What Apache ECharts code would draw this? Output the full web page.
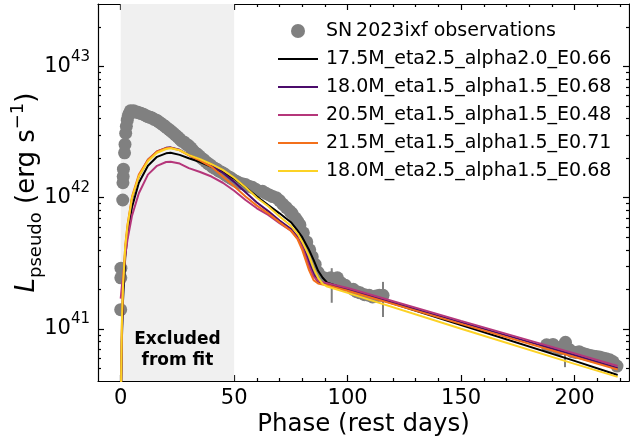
<!DOCTYPE html>
<html><head><meta charset="utf-8">
<script src="https://cdn.jsdelivr.net/npm/echarts@6/dist/echarts.min.js"></script>
<style>html,body{margin:0;padding:0;background:#fff}#c{width:630px;height:440px}</style>
</head><body><div id="c"></div>
<script>
// ---- data ----
const obsName = 'SN\u20092023ixf observations';
const obsDay = [0.0,0.05,0.1,0.9,1.0,1.1,1.2,1.7,1.9,2.2,2.5,2.9,3.3,3.8,4.3,
  5.0,5.7,6.4,7.2,8.0,8.8,9.6,10.4,11.3,12.1,13.0,13.9,14.8,15.8,16.7,17.6,18.6,19.5,20.4,21.4,22.3,23.3,24.2,25.2,26.1,27.0,28.0,29.0,29.9,30.9,31.8,32.8,33.7,34.7,35.6,36.6,37.5,38.5,39.4,40.4,41.3,42.3,43.2,44.2,45.1,46.1,47.0,48.0,48.9,49.9,
  51.0,52.0,53.5,55.0,56.5,58.0,59.5,61.0,62.5,64.0,65.5,67.0,68.5,70.0,71.5,73.0,74.5,75.5,77.0,78.0,79.0,80.5,82.0,83.3,84.4,85.7,87.0,88.3,89.5,91.0,92.5,94.0,95.5,97.0,99.0,102.5,104.0,105.5,107.5,109.5,111.0,112.5,114.0,115.6,
  187.7,189.0,190.5,192.0,193.5,195.0,196.0,197.5,199.0,200.5,202.0,203.5,205.0,206.5,208.0,209.5,211.0,212.5,214.0,215.5,217.0,218.7];
const obsLum = [1.4e41,2.45e41,2.9e41,9.6e41,1.3e42,1.45e42,1.65e42,2.2e42,2.55e42,3.1e42,3.5e42,3.9e42,4.2e42,4.4e42,4.6e42,
  4.55e42,4.6e42,4.5e42,4.5e42,4.45e42,4.4e42,4.35e42,4.3e42,4.2e42,4.15e42,4.1e42,4.05e42,3.95e42,3.9e42,3.8e42,3.7e42,3.6e42,3.5e42,3.4e42,3.3e42,3.2e42,3.1e42,3.0e42,2.9e42,2.8e42,2.7e42,2.65e42,2.55e42,2.5e42,2.4e42,2.3e42,2.2e42,2.15e42,2.08e42,2.0e42,1.95e42,1.88e42,1.82e42,1.78e42,1.72e42,1.68e42,1.65e42,1.6e42,1.57e42,1.54e42,1.5e42,1.46e42,1.43e42,1.4e42,1.36e42,
  1.33e42,1.3e42,1.28e42,1.26e42,1.22e42,1.2e42,1.16e42,1.12e42,1.12e42,1.08e42,1.05e42,1.02e42,1.0e42,9.5e41,8.9e41,8.4e41,7.9e41,7.6e41,7.0e41,6.6e41,6.2e41,5.4e41,4.6e41,4.0e41,3.55e41,3.1e41,2.7e41,2.5e41,2.45e41,2.4e41,2.45e41,2.35e41,2.45e41,2.25e41,2.15e41,2.0e41,1.92e41,1.88e41,1.82e41,1.8e41,1.75e41,1.78e41,1.8e41,1.8e41,
  7.55e40,7.3e40,7.6e40,7.2e40,7.0e40,7.4e40,7.9e40,7.0e40,6.7e40,6.6e40,6.7e40,6.5e40,6.4e40,6.3e40,6.2e40,6.15e40,6.1e40,6.0e40,5.9e40,5.8e40,5.6e40,5.2e40];
const errDay = [93.0, 115.6, 192.3, 195.8, 206.5];
const errLow = [1.58e41, 1.23e41, 6.5e40, 5.1e40, 5.8e40];
const errHigh = [2.9e41, 2.28e41, 8.0e40, 8.5e40, 7.0e40];

const modelNames = ['17.5M_eta2.5_alpha2.0_E0.66','18.0M_eta1.5_alpha1.5_E0.68','20.5M_eta1.5_alpha1.5_E0.48','21.5M_eta1.5_alpha1.5_E0.71','18.0M_eta2.5_alpha1.5_E0.68'];
const modelColors = ['#000000','#4b0c6b','#b5367a','#f3701b','#fcd225'];
const modelDay = [0,0.5,1,2,3,5,8,12,16,20,22,26,30,35,40,45,50,55,60,65,70,75,78,80,83,85,87,89,91,100,150,200,219];
const modelBlack = [2e40,8e40,1.6e41,3.5e41,5.2e41,8.5e41,1.3e42,1.75e42,2.05e42,2.18e42,2.2e42,2.12e42,2.0e42,1.87e42,1.72e42,1.57e42,1.4e42,1.2e42,1.02e42,8.8e41,7.6e41,6.5e41,5.6e41,5.0e41,4.0e41,3.36e41,2.77e41,2.45e41,2.25e41,2.0e41,1.07e41,5.7e40,4.45e40];
const modelPurple = [2e40,9e40,1.9e41,4e41,5.8e41,9.8e41,1.45e42,1.95e42,2.25e42,2.4e42,2.42e42,2.32e42,2.12e42,1.95e42,1.75e42,1.55e42,1.32e42,1.1e42,9.2e41,7.9e41,6.7e41,5.8e41,5.0e41,4.4e41,3.2e41,2.6e41,2.3e41,2.22e41,2.17e41,2.0e41,1.12e41,6.3e40,5.0e40];
const modelPink = [1.7e41,2.1e41,2.5e41,3.6e41,4.8e41,7.3e41,1.08e42,1.5e42,1.75e42,1.87e42,1.88e42,1.82e42,1.68e42,1.57e42,1.45e42,1.3e42,1.13e42,9.6e41,8.3e41,7.4e41,6.4e41,5.6e41,4.9e41,4.2e41,3.0e41,2.5e41,2.32e41,2.27e41,2.23e41,2.05e41,1.15e41,6.5e40,5.2e40];
const modelOrange = [2e40,1e41,2.1e41,4.3e41,6.2e41,1.02e42,1.5e42,1.95e42,2.25e42,2.38e42,2.4e42,2.3e42,2.1e42,1.92e42,1.72e42,1.45e42,1.22e42,1.02e42,8.7e41,7.6e41,6.5e41,5.6e41,4.8e41,4.0e41,2.8e41,2.35e41,2.22e41,2.18e41,2.15e41,1.95e41,1.09e41,6.1e40,4.9e40];
const modelYellow = [2e40,1.1e41,2.1e41,4.2e41,6.1e41,1.0e42,1.45e42,1.9e42,2.2e42,2.35e42,2.38e42,2.3e42,2.12e42,1.97e42,1.8e42,1.63e42,1.42e42,1.2e42,1.0e42,8.6e41,7.2e41,6.1e41,5.3e41,4.6e41,3.6e41,2.9e41,2.45e41,2.2e41,2.1e41,1.88e41,1.0e41,5.4e40,4.3e40];
const modelValues = [modelBlack, modelPurple, modelPink, modelOrange, modelYellow];

const excludedRange = [0, 50];
const excludedText = 'Excluded\nfrom fit';
const xMajorTicks = [0,50,100,150,200];
const xMinorTicks = [10,20,30,40,60,70,80,90,110,120,130,140,160,170,180,190,210,220];
const yMajorTicks = [1e41,1e42,1e43];
const yMinorTicks = [4e40,5e40,6e40,7e40,8e40,9e40,2e41,3e41,4e41,5e41,6e41,7e41,8e41,9e41,2e42,3e42,4e42,5e42,6e42,7e42,8e42,9e42,2e43,3e43];
const xLimits = [-10, 224];
const yLimits = [4e40, 3e43];

// ---- chart ----
const FONT = 'DejaVu Sans';
const lineSt = {color:'#000', width:1.2};
function xAx(pos, ticks, len, showLine, showLabel, extra){
  return Object.assign({type:'value', position:pos, min:xLimits[0], max:xLimits[1],
    axisLine:{show:showLine, onZero:false, lineStyle:lineSt},
    axisTick:{show:true, inside:true, length:len, customValues:ticks, lineStyle:lineSt},
    axisLabel:{show:showLabel, customValues:ticks, color:'#000', fontSize:21, fontFamily:FONT, margin:7},
    splitLine:{show:false}}, extra||{});
}
function yAx(pos, ticks, len, showLine, showLabel, extra){
  return Object.assign({type:'log', logBase:10, position:pos, min:yLimits[0], max:yLimits[1],
    axisLine:{show:showLine, onZero:false, lineStyle:lineSt},
    axisTick:{show:true, inside:true, length:len, customValues:ticks, lineStyle:lineSt},
    axisLabel:{show:showLabel, customValues:ticks, margin:8,
      formatter: v => '{b|10}{s|' + Math.round(Math.log10(v)) + '}',
      rich:{b:{fontSize:21, fontFamily:FONT, color:'#000', lineHeight:34},
            s:{fontSize:15, fontFamily:FONT, color:'#000', lineHeight:15, verticalAlign:'top'}}},
    splitLine:{show:false}, minorSplitLine:{show:false}}, extra||{});
}

const series = [];
series.push({type:'scatter', name:'_shade', data:[], z:0, silent:true,
  markArea:{silent:true, itemStyle:{color:'#f0f0f0'},
    label:{show:true, position:'insideBottom', distance:10, formatter:excludedText, color:'#000',
      fontSize:17, fontWeight:'bold', fontFamily:FONT, lineHeight:21},
    data:[[{xAxis:excludedRange[0]},{xAxis:excludedRange[1]}]]}});
series.push({type:'custom', name:'_err', z:2, silent:true,
  data: errDay.map((d,i)=>[d, errLow[i], errHigh[i]]),
  encode:{x:0, y:[1,2]},
  renderItem:(params, api)=>{
    const a = api.coord([api.value(0), api.value(1)]);
    const b = api.coord([api.value(0), api.value(2)]);
    return {type:'line', shape:{x1:a[0], y1:a[1], x2:b[0], y2:b[1]}, style:{stroke:'#808080', lineWidth:2}};
  }});
series.push({type:'scatter', name:obsName, z:3, symbol:'circle', symbolSize:13,
  itemStyle:{color:'#808080', opacity:1},
  data: obsDay.map((d,i)=>[d, obsLum[i]])});
modelNames.forEach((n,k)=>{
  series.push({type:'line', name:n, z:4+k, symbol:'none', smooth:false, clip:true,
    lineStyle:{color:modelColors[k], width:2}, itemStyle:{color:modelColors[k]},
    data: modelDay.map((d,i)=>[d, modelValues[k][i]])});
});

const option = {
  animation:false,
  backgroundColor:'#fff',
  grid:{left:98, right:1, top:4, bottom:59, containLabel:false, outerBoundsMode:'none'},
  legend:{orient:'vertical', left:272, top:16, itemWidth:40, itemHeight:14, itemGap:8,
    textStyle:{fontSize:19, fontFamily:FONT, color:'#000', lineHeight:20, padding:[0,0,0,3]},
    data:[{name:obsName, icon:'circle'}].concat(modelNames.map(n=>({name:n, itemStyle:{opacity:0}})))},
  xAxis:[
    xAx('bottom', xMajorTicks, 6, true, true, {name:'Phase (rest days)', nameLocation:'middle', nameGap:31,
      nameMoveOverlap:false, nameTextStyle:{fontSize:24.5, fontFamily:FONT, color:'#000'}}),
    xAx('bottom', xMinorTicks, 3, false, false),
    xAx('top', xMajorTicks, 6, true, false),
    xAx('top', xMinorTicks, 3, false, false)
  ],
  yAxis:[
    yAx('left', yMajorTicks, 6, true, true, {name:'{i|L}{sub|pseudo}{n| (erg s}{sup|\u22121}{n|)}',
      nameLocation:'middle', nameGap:53, nameRotate:90, nameMoveOverlap:false,
      nameTextStyle:{fontFamily:FONT, color:'#000', rich:{
        i:{fontSize:26, fontStyle:'italic', fontFamily:FONT, color:'#000', lineHeight:36},
        sub:{fontSize:18, fontFamily:FONT, color:'#000', lineHeight:18, verticalAlign:'bottom'},
        n:{fontSize:26, fontFamily:FONT, color:'#000', lineHeight:36},
        sup:{fontSize:18, fontFamily:FONT, color:'#000', lineHeight:18, verticalAlign:'top'}}}}),
    yAx('left', yMinorTicks, 3, false, false),
    yAx('right', yMajorTicks, 6, true, false),
    yAx('right', yMinorTicks, 3, false, false)
  ],
  series: series
};
const chart = echarts.init(document.getElementById('c'), null, {renderer:'canvas'});
chart.setOption(option);
</script>
</body></html>
